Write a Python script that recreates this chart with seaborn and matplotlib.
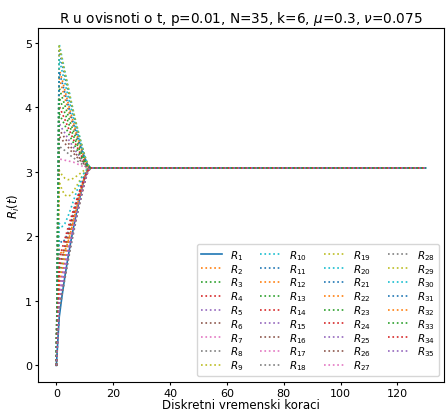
import matplotlib
matplotlib.use("Agg")
import matplotlib.pyplot as plt
import numpy as np
import seaborn as sns

# values of R_i(t) for t = 0..11, after that every line sits at the steady level
steady_value = 3.06
t_end = 130

r01 = [0.0, 0.75, 1.08, 1.38, 1.65, 1.90, 2.13, 2.35, 2.55, 2.75, 2.92, 3.03]
r02 = [0.0, 1.80, 1.72, 1.78, 1.90, 2.06, 2.24, 2.42, 2.60, 2.78, 2.94, 3.03]
r03 = [0.0, 4.30, 4.16, 4.03, 3.89, 3.75, 3.63, 3.51, 3.39, 3.28, 3.18, 3.10]
r04 = [0.0, 4.02, 3.91, 3.81, 3.70, 3.60, 3.50, 3.41, 3.32, 3.23, 3.16, 3.09]
r05 = [0.0, 3.75, 3.67, 3.60, 3.52, 3.45, 3.38, 3.31, 3.25, 3.18, 3.13, 3.08]
r06 = [0.0, 3.55, 3.50, 3.44, 3.39, 3.33, 3.29, 3.24, 3.19, 3.15, 3.11, 3.07]
r07 = [0.0, 3.20, 3.19, 3.18, 3.17, 3.16, 3.15, 3.13, 3.11, 3.09, 3.07, 3.06]
r08 = [0.0, 3.40, 3.36, 3.33, 3.29, 3.25, 3.22, 3.18, 3.15, 3.12, 3.09, 3.07]
r09 = [0.0, 3.02, 2.95, 2.90, 2.88, 2.88, 2.90, 2.93, 2.96, 3.00, 3.03, 3.05]
r10 = [0.0, 4.98, 4.77, 4.56, 4.35, 4.14, 3.94, 3.75, 3.58, 3.41, 3.25, 3.12]
r11 = [0.0, 1.95, 1.90, 1.95, 2.05, 2.20, 2.35, 2.52, 2.68, 2.84, 2.97, 3.04]
r12 = [0.0, 4.60, 4.43, 4.26, 4.09, 3.92, 3.77, 3.61, 3.48, 3.34, 3.21, 3.11]
r13 = [0.0, 1.40, 1.58, 1.77, 1.95, 2.13, 2.30, 2.46, 2.61, 2.76, 2.89, 3.01]
r14 = [0.0, 0.95, 1.18, 1.41, 1.65, 1.88, 2.09, 2.30, 2.49, 2.68, 2.85, 3.00]
r15 = [0.0, 1.10, 1.32, 1.53, 1.75, 1.96, 2.16, 2.35, 2.53, 2.71, 2.86, 3.00]
r16 = [0.0, 3.65, 3.59, 3.52, 3.46, 3.39, 3.33, 3.27, 3.22, 3.17, 3.12, 3.08]
r17 = [0.0, 1.25, 1.45, 1.65, 1.85, 2.05, 2.23, 2.41, 2.57, 2.73, 2.88, 3.01]
r18 = [0.0, 1.55, 1.72, 1.88, 2.05, 2.21, 2.37, 2.52, 2.65, 2.79, 2.91, 3.01]
r19 = [0.0, 2.85, 2.72, 2.64, 2.62, 2.64, 2.70, 2.77, 2.85, 2.93, 3.00, 3.04]
r20 = [0.0, 2.20, 2.15, 2.20, 2.30, 2.42, 2.55, 2.68, 2.80, 2.92, 3.00, 3.05]
r21 = [0.0, 4.88, 4.68, 4.48, 4.28, 4.08, 3.90, 3.72, 3.55, 3.39, 3.24, 3.11]
r22 = [0.0, 4.45, 4.30, 4.14, 3.99, 3.84, 3.70, 3.56, 3.44, 3.31, 3.20, 3.10]
r23 = [0.0, 3.90, 3.81, 3.72, 3.62, 3.53, 3.45, 3.36, 3.29, 3.21, 3.14, 3.09]
r24 = [0.0, 1.65, 1.81, 1.96, 2.12, 2.27, 2.41, 2.55, 2.68, 2.81, 2.92, 3.02]
r25 = [0.0, 1.20, 1.40, 1.61, 1.81, 2.02, 2.20, 2.39, 2.56, 2.73, 2.87, 3.00]
r26 = [0.0, 0.90, 1.14, 1.38, 1.61, 1.85, 2.07, 2.28, 2.48, 2.67, 2.84, 3.00]
r27 = [0.0, 1.05, 1.27, 1.49, 1.71, 1.93, 2.14, 2.34, 2.52, 2.70, 2.86, 3.00]
r28 = [0.0, 0.85, 1.09, 1.34, 1.58, 1.82, 2.04, 2.26, 2.46, 2.66, 2.84, 2.99]
r29 = [0.0, 4.95, 4.74, 4.53, 4.33, 4.12, 3.93, 3.74, 3.57, 3.40, 3.25, 3.12]
r30 = [0.0, 4.75, 4.56, 4.38, 4.19, 4.01, 3.84, 3.67, 3.52, 3.36, 3.23, 3.11]
r31 = [0.0, 4.55, 4.39, 4.22, 4.06, 3.89, 3.75, 3.60, 3.46, 3.33, 3.21, 3.10]
r32 = [0.0, 1.30, 1.49, 1.69, 1.88, 2.07, 2.25, 2.43, 2.58, 2.74, 2.88, 3.01]
r33 = [0.0, 4.15, 4.03, 3.91, 3.79, 3.67, 3.56, 3.45, 3.35, 3.26, 3.17, 3.09]
r34 = [0.0, 1.50, 1.67, 1.84, 2.01, 2.19, 2.34, 2.50, 2.64, 2.78, 2.90, 3.01]
r35 = [0.0, 1.00, 1.23, 1.45, 1.68, 1.91, 2.11, 2.32, 2.50, 2.69, 2.85, 3.00]

series = [r01, r02, r03, r04, r05, r06, r07, r08, r09, r10,
          r11, r12, r13, r14, r15, r16, r17, r18, r19, r20,
          r21, r22, r23, r24, r25, r26, r27, r28, r29, r30,
          r31, r32, r33, r34, r35]

title = r"R u ovisnoti o t, p=0.01, N=35, k=6, $\mu$=0.3, $\nu$=0.075"

plt.rcParams["font.size"] = 7.5

t = np.arange(t_end + 1)
colors = plt.rcParams["axes.prop_cycle"].by_key()["color"]

fig, ax = plt.subplots(figsize=(4.46, 4.14), dpi=100)
fig.subplots_adjust(left=0.085, right=0.996, bottom=0.076, top=0.93)

for i, vals in enumerate(series):
    full = np.array(vals + [steady_value] * (len(t) - len(vals)))
    ls = "-" if i == 0 else ":"
    sns.lineplot(x=t, y=full, ax=ax, color=colors[i % 10], linestyle=ls,
                 linewidth=1.2, label=f"$R_{{{i + 1}}}$")

ax.set_title(title, fontsize=9.8, pad=4)
ax.set_xlabel("Diskretni vremenski koraci", fontsize=8.5, labelpad=0.5)
ax.set_ylabel("$R_i(t)$", fontsize=8.5, labelpad=2)
ax.tick_params(length=2.4, pad=2.0, labelsize=8)
ax.legend(loc="lower right", ncol=4, labelspacing=0.0, columnspacing=1.6)

plt.savefig("out.png", dpi=100)
